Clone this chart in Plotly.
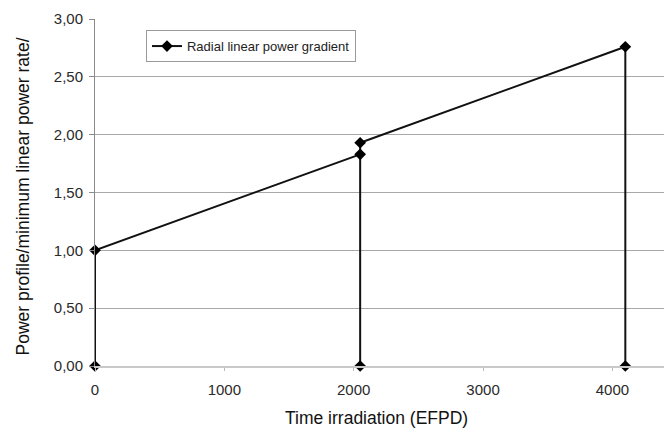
import plotly.graph_objects as go

# Irradiation time (EFPD) and normalised radial linear power gradient
time_efpd = [0, 0, 2050, 2050, 2050, 4100, 4100]
power_ratio = [0.00, 1.00, 1.83, 0.00, 1.93, 2.76, 0.00]
series_name = "Radial linear power gradient"

x_ticks = [0, 1000, 2000, 3000, 4000]
y_ticks = [0.0, 0.5, 1.0, 1.5, 2.0, 2.5, 3.0]
y_tick_text = ["0,00", "0,50", "1,00", "1,50", "2,00", "2,50", "3,00"]

x_title = "Time irradiation (EFPD)"
y_title = "Power profile/minimum linear power rate/"

tick_font = dict(family="Liberation Sans, Arial, sans-serif", size=15, color="#2a2a2a")
title_font = dict(family="Liberation Sans Narrow, Arial Narrow, Liberation Sans, sans-serif",
                  size=17.5, color="#111111")

fig = go.Figure()
fig.add_trace(go.Scatter(
    x=time_efpd, y=power_ratio, name=series_name,
    mode="lines+markers",
    line=dict(color="#111111", width=2),
    marker=dict(symbol="diamond", size=9, color="#000000"),
    showlegend=True, cliponaxis=False,
))

fig.update_layout(
    width=664, height=429,
    margin=dict(l=95, r=0, t=19, b=63),
    paper_bgcolor="white", plot_bgcolor="white",
    showlegend=True,
    legend=dict(
        x=0.0896, y=0.968, xanchor="left", yanchor="top",
        bgcolor="white", bordercolor="#9a9a9a", borderwidth=1,
        font=dict(family="Liberation Sans, Arial, sans-serif", size=13, color="#222222"),
        itemwidth=30, tracegroupgap=0,
    ),
    xaxis=dict(
        range=[0, 4399], tickvals=x_ticks, ticktext=[str(v) for v in x_ticks],
        showgrid=False, zeroline=False,
        showline=True, linecolor="#c8c8c8", linewidth=2,
        ticks="outside", ticklen=3, tickcolor="#bbbbbb", tickwidth=1,
        ticklabelstandoff=6,
        tickfont=tick_font,
    ),
    yaxis=dict(
        range=[0, 3], tickvals=y_ticks, ticktext=y_tick_text,
        showgrid=True, gridcolor="#a8a8a8", gridwidth=1,
        zeroline=False,
        showline=True, linecolor="#8a8a8a", linewidth=1,
        ticks="outside", ticklen=5, tickcolor="#8a8a8a", tickwidth=1,
        ticklabelstandoff=3,
        tickfont=tick_font,
    ),
    annotations=[
        dict(text=x_title, xref="paper", yref="paper",
             x=0.330, y=-0.150, xanchor="left", yanchor="middle",
             showarrow=False, font=title_font),
        dict(text=y_title, xref="paper", yref="paper",
             x=-0.1265, y=0.4885, xanchor="center", yanchor="middle",
             textangle=-90, showarrow=False, font=title_font),
    ],
)

fig.write_html("out.html")
